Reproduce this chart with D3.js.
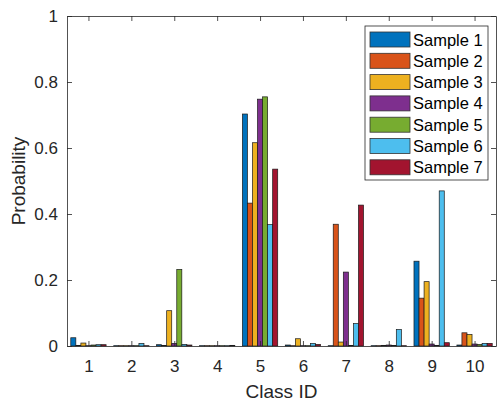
<!DOCTYPE html>
<html>
<head>
<meta charset="utf-8">
<script src="https://cdn.jsdelivr.net/npm/d3@7"></script>
<style>
  body { margin: 0; background: #fff; }
  svg { font-family: "Liberation Sans", Arial, sans-serif; }
</style>
</head>
<body>
<svg id="chart" width="500" height="407"></svg>
<script>
// class ids along x
const classes = ["1", "2", "3", "4", "5", "6", "7", "8", "9", "10"];
const seriesNames = ["Sample 1", "Sample 2", "Sample 3", "Sample 4", "Sample 5", "Sample 6", "Sample 7"];
const colors = ["#0072BD", "#D95319", "#EDB120", "#7E2F8E", "#77AC30", "#4DBEEE", "#A2142F"];

// probability per class, one array per sample
const sample1 = [0.025, 0.001, 0.004, 0.001, 0.703, 0.003, 0.001, 0.001, 0.257, 0.003];
const sample2 = [0.002, 0.001, 0.002, 0.001, 0.433, 0.001, 0.369, 0.001, 0.145, 0.040];
const sample3 = [0.009, 0.001, 0.107, 0.001, 0.616, 0.022, 0.012, 0.002, 0.195, 0.035];
const sample4 = [0.001, 0.001, 0.008, 0.001, 0.748, 0.001, 0.224, 0.003, 0.006, 0.006];
const sample5 = [0.003, 0.001, 0.232, 0.001, 0.755, 0.001, 0.002, 0.002, 0.002, 0.005];
const sample6 = [0.004, 0.008, 0.005, 0.001, 0.368, 0.008, 0.068, 0.050, 0.470, 0.008];
const sample7 = [0.004, 0.001, 0.003, 0.002, 0.536, 0.005, 0.427, 0.001, 0.010, 0.008];
const allSamples = [sample1, sample2, sample3, sample4, sample5, sample6, sample7];

const yTicks = [0, 0.2, 0.4, 0.6, 0.8, 1];

const plotL = 67, plotR = 496, plotT = 16, plotB = 346;
const svg = d3.select("#chart");

const x = d3.scaleBand()
   .domain(classes)
   .range([plotL, plotR])
   .paddingInner(0.1765)
   .paddingOuter(0.1765 / 2);

const xs = d3.scaleBand()
   .domain(d3.range(seriesNames.length))
   .range([0, x.bandwidth()]);

const y = d3.scaleLinear().domain([0, 1]).range([plotB, plotT]);

// bars
const groups = svg.append("g")
   .selectAll("g")
   .data(classes)
   .join("g")
   .attr("transform", d => `translate(${x(d)},0)`);

groups.selectAll("rect")
   .data((c, i) => allSamples.map((s, k) => ({ k: k, v: s[i] })))
   .join("rect")
   .attr("x", d => xs(d.k))
   .attr("width", xs.bandwidth())
   .attr("y", d => y(d.v))
   .attr("height", d => y(0) - y(d.v))
   .attr("fill", d => colors[d.k])
   .attr("stroke", "#1a1a1a")
   .attr("stroke-width", 0.7);

// axes (ticks point inward like matlab)
const axisColor = "#262626";
const xl = d3.scaleLinear().domain([0.5, 10.5]).range([plotL, plotR]);

const gx = svg.append("g")
   .attr("transform", `translate(0,${plotB})`)
   .call(d3.axisBottom(xl).tickValues(d3.range(1, 11)).tickFormat(d3.format("d"))
      .tickSizeInner(-5).tickSizeOuter(0).tickPadding(14));

const gxTop = svg.append("g")
   .attr("transform", `translate(0,${plotT})`)
   .call(d3.axisTop(xl).tickValues(d3.range(1, 11)).tickFormat("")
      .tickSizeInner(-5).tickSizeOuter(0));

const gy = svg.append("g")
   .attr("transform", `translate(${plotL},0)`)
   .call(d3.axisLeft(y).tickValues(yTicks).tickFormat(d => d3.format("~g")(d))
      .tickSizeInner(-5).tickSizeOuter(0).tickPadding(9));

const gyRight = svg.append("g")
   .attr("transform", `translate(${plotR},0)`)
   .call(d3.axisRight(y).tickValues(yTicks).tickFormat("")
      .tickSizeInner(-5).tickSizeOuter(0));

[gx, gxTop, gy, gyRight].forEach(g => {
   g.selectAll("path, line").attr("stroke", axisColor).attr("stroke-width", 0.8);
   g.selectAll("text").attr("fill", axisColor).style("font-size", "17px");
});

svg.append("text")
   .attr("x", (plotL + plotR) / 2)
   .attr("y", 398)
   .attr("text-anchor", "middle")
   .attr("fill", axisColor)
   .style("font-size", "19px")
   .text("Class ID");

svg.append("text")
   .attr("transform", `translate(25,${(plotT + plotB) / 2}) rotate(-90)`)
   .attr("text-anchor", "middle")
   .attr("fill", axisColor)
   .style("font-size", "19px")
   .text("Probability");

// legend
const legend = svg.append("g").attr("transform", "translate(365,26)");
legend.append("rect")
   .attr("width", 123)
   .attr("height", 154)
   .attr("fill", "#fff")
   .attr("stroke", axisColor)
   .attr("stroke-width", 0.8);

const item = legend.selectAll("g.item")
   .data(seriesNames)
   .join("g")
   .attr("class", "item")
   .attr("transform", (d, i) => `translate(5,${6 + i * 21.3})`);

item.append("rect")
   .attr("width", 40)
   .attr("height", 15)
   .attr("fill", (d, i) => colors[i])
   .attr("stroke", "#333")
   .attr("stroke-width", 0.8);

item.append("text")
   .attr("x", 43)
   .attr("y", 13.5)
   .attr("fill", "#000")
   .style("font-size", "16.5px")
   .text(d => d);
</script>
</body>
</html>
